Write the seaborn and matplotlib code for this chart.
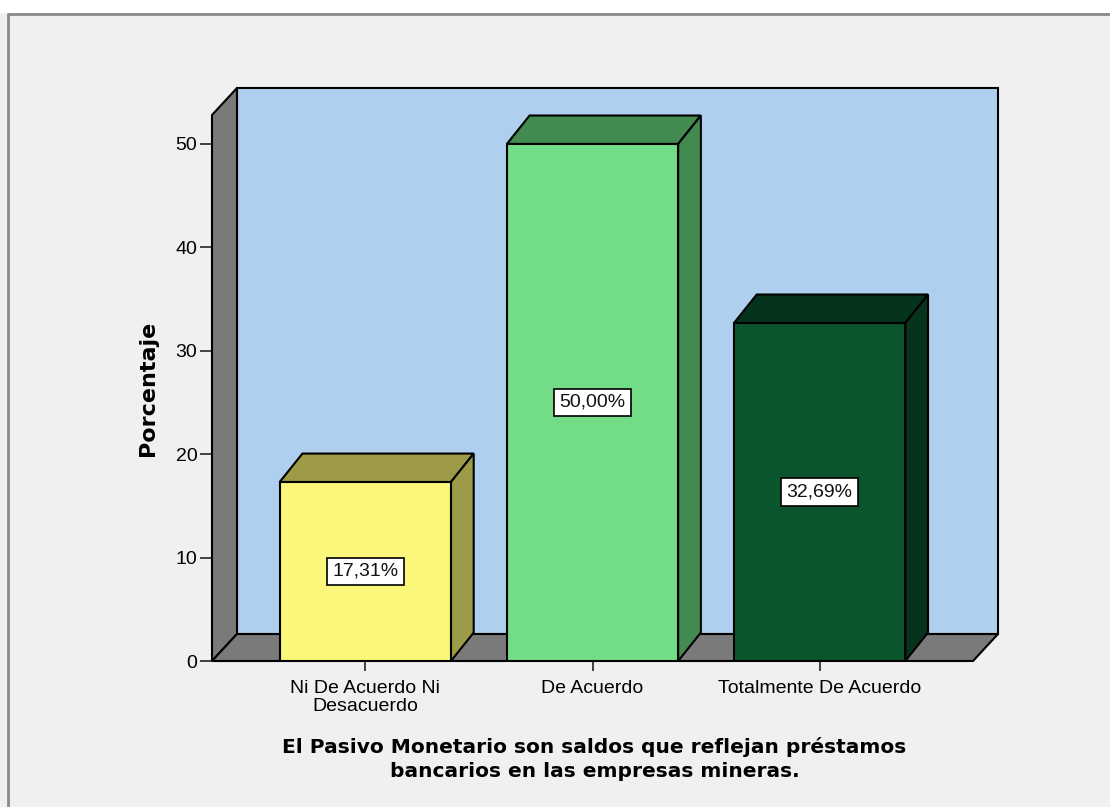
import matplotlib
matplotlib.use("Agg")
import matplotlib.pyplot as plt
from matplotlib.patches import Polygon, Rectangle
from matplotlib.lines import Line2D
import seaborn as sns

# data
categories = ["Ni De Acuerdo Ni\nDesacuerdo", "De Acuerdo", "Totalmente De Acuerdo"]
values = [17.31, 50.00, 32.69]
yticks = [0, 10, 20, 30, 40, 50]
xlabel = "El Pasivo Monetario son saldos que reflejan préstamos\nbancarios en las empresas mineras."
ylabel = "Porcentaje"

front_colors = ["#FAF77A", "#72DC87", "#0B552D"]
side_colors = ["#9E9B48", "#428A50", "#06331B"]

sns.set_style("white")
plt.rcParams["font.family"] = ["Liberation Sans", "DejaVu Sans"]
plt.rcParams["text.color"] = "black"
plt.rcParams["axes.labelcolor"] = "black"
plt.rcParams["xtick.color"] = "black"
plt.rcParams["ytick.color"] = "black"

fig = plt.figure(figsize=(11.1, 8.07), dpi=100, facecolor="#F0F0F0")
W, H = 1110, 807
ax = fig.add_axes([212 / W, 1 - 661 / H, (998 - 212) / W, (661 - 88) / H])
ax.set_facecolor("none")

# fake depth
x0, x1 = -0.675, 2.675
wdx, wdy = 0.11, 2.61
ytop = 52.8
bdx, bdy = 0.1, 2.75

sns.barplot(x=categories, y=values, hue=categories, palette=front_colors,
            saturation=1, width=0.754, edgecolor="black", linewidth=1.5,
            legend=False, ax=ax)

ax.set_xlim(x0, x1 + wdx)
ax.set_ylim(0, ytop + wdy)

# walls
back = Rectangle((x0 + wdx, wdy), x1 - x0, ytop, facecolor="#AED0EE",
                 edgecolor="black", lw=1.5, zorder=0.5, clip_on=False)
ax.add_patch(back)
left = Polygon([(x0, 0), (x0, ytop), (x0 + wdx, ytop + wdy), (x0 + wdx, wdy)],
               closed=True, facecolor="#7A7A7A", edgecolor="black", lw=1.5,
               zorder=0.6, clip_on=False)
ax.add_patch(left)
floor = Polygon([(x0, 0), (x1, 0), (x1 + wdx, wdy), (x0 + wdx, wdy)],
                closed=True, facecolor="#7A7A7A", edgecolor="black", lw=1.5,
                zorder=0.7, clip_on=False)
ax.add_patch(floor)

# bar tops and sides
for i, p in enumerate(ax.patches[:3]):
    bx, bw, bh = p.get_x(), p.get_width(), p.get_height()
    p.set_zorder(3)
    top = Polygon([(bx, bh), (bx + bdx, bh + bdy), (bx + bw + bdx, bh + bdy), (bx + bw, bh)],
                  closed=True, facecolor=side_colors[i], edgecolor="black", lw=1.5, zorder=2)
    side = Polygon([(bx + bw, 0), (bx + bw, bh), (bx + bw + bdx, bh + bdy), (bx + bw + bdx, bdy)],
                   closed=True, facecolor=side_colors[i], edgecolor="black", lw=1.5, zorder=2)
    ax.add_patch(top)
    ax.add_patch(side)
    lbl = f"{values[i]:.2f}%".replace(".", ",")
    ax.text(bx + bw / 2, bh / 2, lbl, ha="center", va="center", fontsize=14,
            color="#111111", zorder=5,
            bbox=dict(boxstyle="square,pad=0.28", facecolor="white", edgecolor="black", lw=1.2))

for s in ax.spines.values():
    s.set_visible(False)

ax.set_yticks(yticks)
ax.set_xticks(range(len(categories)))
ax.set_xticklabels(categories, linespacing=1.1)
ax.tick_params(axis="y", direction="out", length=8.5, width=1.3, color="#333333",
               labelsize=14, pad=2, left=True)
ax.tick_params(axis="x", direction="out", length=7.5, width=1.3, color="#333333",
               labelsize=14, pad=6, bottom=True)

ax.set_ylabel(ylabel, fontsize=16, fontweight="bold", family="DejaVu Sans")
ax.yaxis.set_label_coords(-0.069, 0.475)
ax.set_xlabel(xlabel, fontsize=14.5, fontweight="bold", family="DejaVu Sans",
              linespacing=1.3)
ax.xaxis.set_label_coords(0.4866, -0.133)

# outer frame
fig.patches.append(Rectangle((0, 1 - 13 / H), 1, 13 / H, transform=fig.transFigure,
                             facecolor="white", edgecolor="none", zorder=-1))
fig.lines.append(Line2D([8 / W, 1], [1 - 14 / H, 1 - 14 / H], transform=fig.transFigure,
                        color="#8A8A8A", lw=2))
fig.lines.append(Line2D([8 / W, 8 / W], [0, 1 - 14 / H], transform=fig.transFigure,
                        color="#8A8A8A", lw=2))

fig.savefig("out.png", dpi=100, facecolor=fig.get_facecolor())
